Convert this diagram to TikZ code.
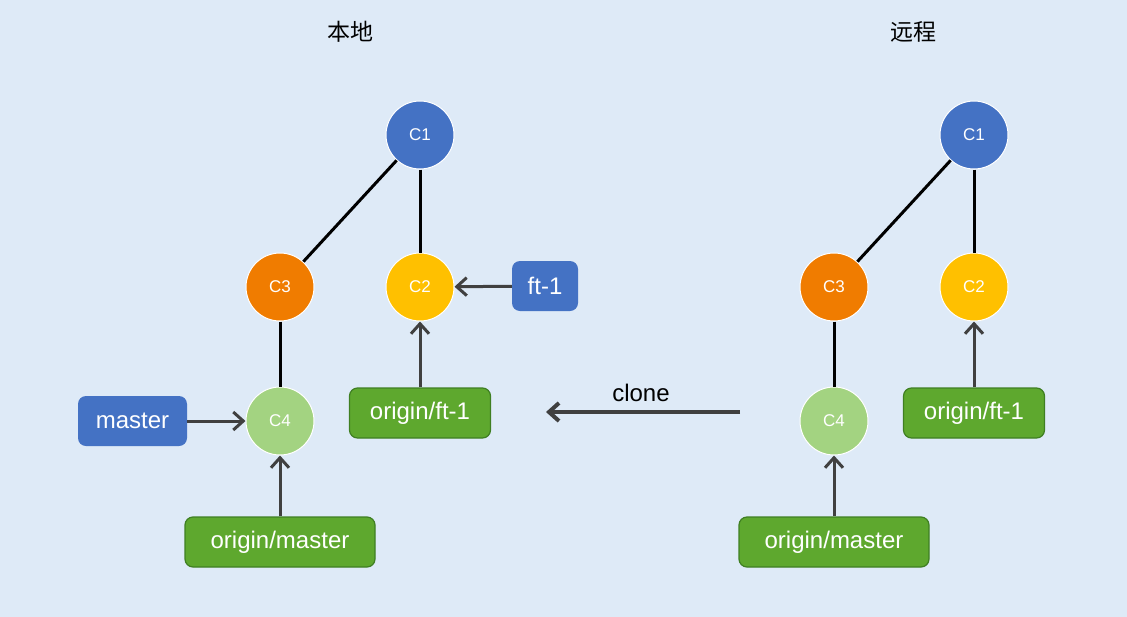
\documentclass[tikz,border=0pt]{standalone}
\usepackage{fontspec}
\setmainfont{Liberation Sans}
\newfontfamily\cjk{Noto Sans CJK SC}
\usetikzlibrary{arrows.meta}
\definecolor{bgblue}{HTML}{DEEAF7}
\definecolor{commitblue}{HTML}{4472C4}
\definecolor{commitorange}{HTML}{F07C00}
\definecolor{commityellow}{HTML}{FFC000}
\definecolor{commitgreen}{HTML}{A3D381}
\definecolor{refblue}{HTML}{4472C4}
\definecolor{refgreen}{HTML}{5EA82E}
\definecolor{refborder}{HTML}{3F7F22}
\definecolor{arrowgray}{HTML}{404040}
\begin{document}
\begin{tikzpicture}[x=1pt, y=-1pt,
    commit/.style={circle, draw=white, line width=1pt, minimum size=68pt, inner sep=0pt,
        text=white, font=\fontsize{17}{17}\selectfont},
    branch/.style={rounded corners=8pt, minimum height=50pt, inner sep=0pt,
        text=white, font=\fontsize{24}{24}\selectfont},
    localref/.style={branch, fill=refblue},
    remoteref/.style={branch, fill=refgreen, draw=refborder, line width=1.2pt},
    edge/.style={line width=3pt, black},
    pointer/.style={line width=3pt, draw=arrowgray, -{Straight Barb[length=10pt,width=18pt]}}]
    % background
    \useasboundingbox (0,0) rectangle (1127,616);
    \fill[bgblue] (-3,-3) rectangle (1130,619);
    \node[font=\cjk\fontsize{23}{23}\selectfont] (local-title) at (350,32) {本地};
    \node[font=\cjk\fontsize{23}{23}\selectfont] (remote-title) at (913,32) {远程};
    % the two repositories
    \foreach \side/\dx in {local/0, remote/554} {
        \node[commit, fill=commitblue] (\side-c1) at (420+\dx,135) {C1};
        \node[commit, fill=commitorange] (\side-c3) at (280+\dx,287) {C3};
        \node[commit, fill=commityellow] (\side-c2) at (420+\dx,287) {C2};
        \node[commit, fill=commitgreen] (\side-c4) at (280+\dx,421) {C4};
        \draw[edge] (\side-c1) -- (\side-c3);
        \draw[edge] (\side-c1) -- (\side-c2);
        \draw[edge] (\side-c3) -- (\side-c4);
        \node[remoteref, minimum width=141pt] (\side-oft) at (420+\dx,413) {origin/ft-1};
        \node[remoteref, minimum width=190pt] (\side-omaster) at (280+\dx,542) {origin/master};
        \draw[pointer] (\side-oft) -- (\side-c2);
        \draw[pointer] (\side-omaster) -- (\side-c4);
    }
    % local branches
    \node[localref, minimum width=109pt] (master) at (132.5,421) {master};
    \node[localref, minimum width=66pt] (ft1) at (545,286) {ft-1};
    \draw[pointer] (master) -- (local-c4);
    \draw[pointer] (ft1) -- (local-c2);
    % clone
    \coordinate (clone-start) at (740,412);
    \coordinate (clone-end) at (546,412);
    \node[font=\fontsize{24}{24}\selectfont] (clone) at (641,393) {clone};
    \draw[pointer, line width=4pt] (clone-start) -- (clone-end);
\end{tikzpicture}
\end{document}
